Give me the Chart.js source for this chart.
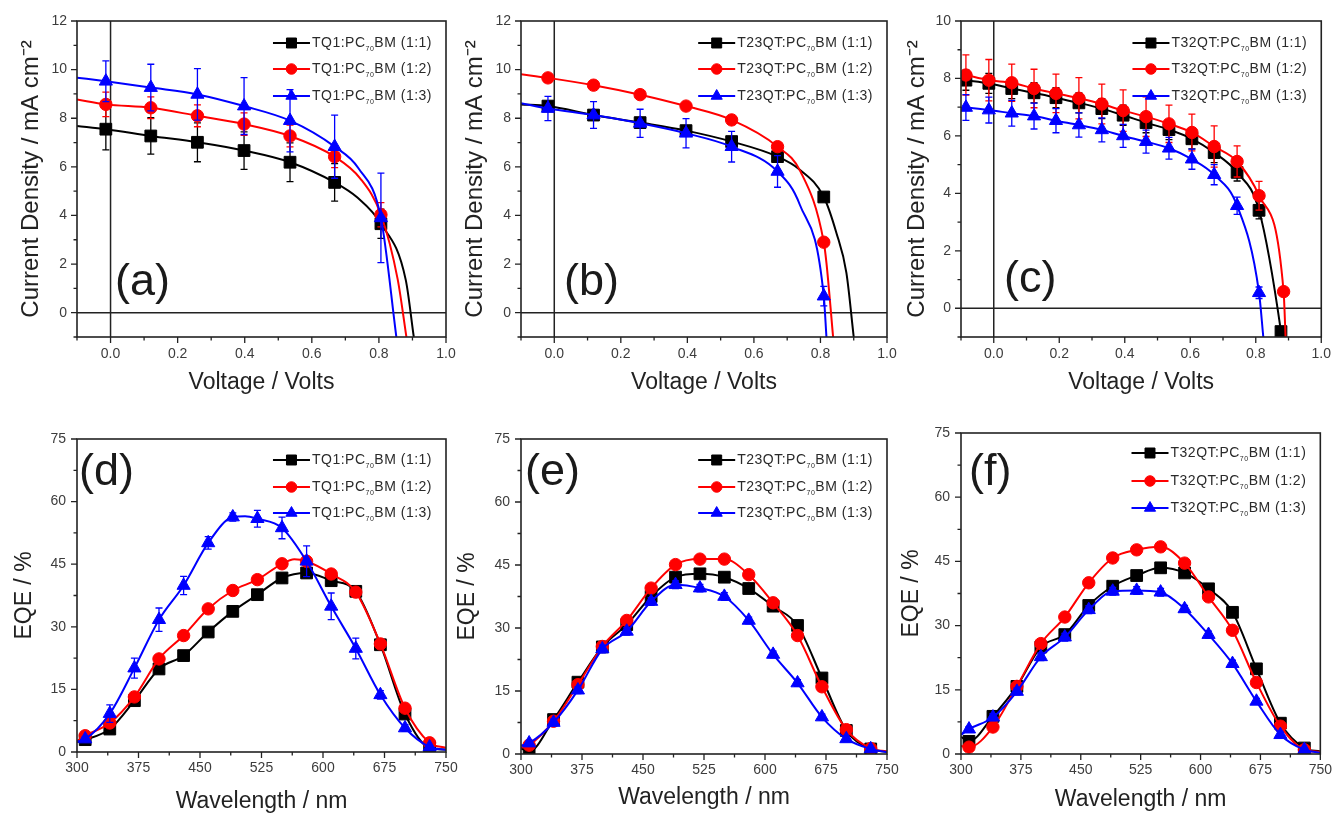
<!DOCTYPE html>
<html><head><meta charset="utf-8">
<script src="https://cdn.jsdelivr.net/npm/chart.js@4.4.1/dist/chart.umd.min.js"></script>
<style>
html,body{margin:0;padding:0;background:#fff;}
body{width:1340px;height:814px;overflow:hidden;position:relative;}
canvas{position:absolute;}
</style></head><body>
<canvas id="ca"></canvas><canvas id="cb"></canvas><canvas id="cc"></canvas>
<canvas id="cd"></canvas><canvas id="ce"></canvas><canvas id="cf"></canvas>
<script>
// ================= DATA =================
// Legend labels
const labelsTQ1   = ['TQ1:PC70BM (1:1)', 'TQ1:PC70BM (1:2)', 'TQ1:PC70BM (1:3)'];
const labelsT23QT = ['T23QT:PC70BM (1:1)', 'T23QT:PC70BM (1:2)', 'T23QT:PC70BM (1:3)'];
const labelsT32QT = ['T32QT:PC70BM (1:1)', 'T32QT:PC70BM (1:2)', 'T32QT:PC70BM (1:3)'];

// (a) J-V, TQ1
const aV   = [-0.014, 0.12, 0.259, 0.398, 0.535, 0.668, 0.806];
const aJ11 = [7.55, 7.27, 7.01, 6.67, 6.19, 5.36, 3.66];
const aJ12 = [8.57, 8.43, 8.10, 7.76, 7.27, 6.42, 4.03];
const aJ13 = [9.52, 9.26, 8.98, 8.50, 7.90, 6.83, 3.90];
const aE11 = [0.85, 0.75, 0.80, 0.77, 0.80, 0.77, 0.60];
const aE12 = [0.50, 0.45, 0.45, 0.46, 0.45, 0.45, 0.50];
const aE13 = [0.84, 0.96, 1.06, 1.17, 1.28, 1.30, 1.84];
const aTail11 = [[-0.1, 7.68], [0.735, 4.75], [0.88, 1.35], [0.904, -1]];
const aTail12 = [[-0.1, 8.77], [0.744, 5.53], [0.856, 1.37], [0.882, -1]];
const aTail13 = [[-0.1, 9.67], [0.739, 5.94], [0.852, -1]];

// (b) J-V, T23QT
const bV   = [-0.019, 0.118, 0.258, 0.396, 0.533, 0.671, 0.81];
const bJ11 = [8.50, 8.13, 7.82, 7.49, 7.04, 6.42, 4.76];
const bJ12 = [9.66, 9.36, 8.97, 8.50, 7.93, 6.83, 2.90];
const bJ13 = [8.40, 8.13, 7.79, 7.38, 6.83, 5.81, 0.68];
const bE11 = [0, 0, 0, 0, 0, 0, 0];
const bE12 = [0, 0, 0, 0, 0, 0, 0];
const bE13 = [0.50, 0.55, 0.58, 0.60, 0.63, 0.65, 0.40];
const bTail11 = [[-0.1, 8.57], [0.738, 5.88], [0.848, 3.28], [0.878, 1.64], [0.9, -1]];
const bTail12 = [[-0.1, 9.81], [0.74, 5.81], [0.818, 2.05], [0.838, -1]];
const bTail13 = [[-0.1, 8.62], [0.738, 4.44], [0.818, -1]];

// (c) J-V, T32QT
const cV   = [-0.085, -0.015, 0.055, 0.123, 0.19, 0.26, 0.33, 0.395, 0.465, 0.535, 0.605, 0.673, 0.743, 0.81];
const cV11 = cV.concat([0.877]);
const cV12 = cV.concat([0.885]);
const cJ11 = [7.94, 7.83, 7.65, 7.50, 7.33, 7.15, 6.95, 6.72, 6.46, 6.22, 5.90, 5.42, 4.73, 3.41, -0.81];
const cJ12 = [8.12, 7.94, 7.85, 7.65, 7.48, 7.31, 7.11, 6.88, 6.67, 6.42, 6.12, 5.63, 5.11, 3.92, 0.58];
const cJ13 = [6.99, 6.90, 6.79, 6.69, 6.53, 6.38, 6.21, 6.00, 5.80, 5.57, 5.19, 4.65, 3.57, 0.54];
const cE11 = [0.35, 0.35, 0.35, 0.35, 0.35, 0.35, 0.35, 0.35, 0.35, 0.35, 0.35, 0.35, 0.3, 0.3, 0];
const cE12 = [0.70, 0.72, 0.65, 0.67, 0.67, 0.72, 0.69, 0.72, 0.69, 0.65, 0.64, 0.72, 0.54, 0.50, 0];
const cE13 = [0.45, 0.45, 0.45, 0.45, 0.42, 0.42, 0.42, 0.40, 0.40, 0.38, 0.35, 0.35, 0.30, 0.2];
const cTail11 = [[0.879, -1]];
const cTail12 = [[0.891, -1]];
const cTail13 = [[0.823, -1]];

// EQE wavelengths
const wl = [310, 340, 370, 400, 430, 460, 490, 520, 550, 580, 610, 640, 670, 700, 730];

// (d) EQE, TQ1
const dQ11 = [2.96, 5.5, 12.3, 19.9, 23.1, 28.75, 33.7, 37.7, 41.7, 42.9, 41.05, 38.5, 25.7, 9.1, 0.96];
const dQ12 = [3.9, 6.95, 13.2, 22.3, 27.9, 34.3, 38.7, 41.3, 45.1, 45.7, 42.65, 38.3, 25.9, 10.5, 2.2];
const dQ13 = [3.1, 9.2, 20.1, 31.7, 39.9, 50.1, 56.3, 55.9, 53.7, 45.7, 34.9, 24.8, 13.7, 5.75, 1.2];
const dE11 = [0.5, 0.6, 0.6, 0.6, 0.6, 0.6, 0.6, 0.6, 0.6, 0.6, 0.6, 0.6, 0.6, 0.6, 0.3];
const dE12 = [0.5, 0.6, 0.6, 0.6, 0.6, 0.6, 0.6, 0.6, 0.6, 0.6, 0.6, 0.6, 0.6, 0.6, 0.3];
const dE13 = [0.5, 2.1, 2.4, 2.8, 2.2, 1.5, 1.0, 2.0, 2.6, 3.7, 3.2, 2.5, 1.0, 0.8, 0.3];
const dTail11 = [[300, 2.4], [750, 0.6]];
const dTail12 = [[300, 2.6], [565, 46.2], [750, 1.0]];
const dTail13 = [[300, 2.5], [505, 56.5], [750, 0.5]];

// (e) EQE, T23QT
const eQ11 = [0.63, 8.2, 17.1, 25.5, 30.8, 37.5, 42.1, 42.9, 42.1, 39.4, 35.2, 30.6, 18.1, 5.6, 1.2];
const eQ12 = [2.1, 7.8, 16.5, 25.6, 31.8, 39.5, 45.1, 46.4, 46.4, 42.7, 36.0, 28.2, 16.0, 5.8, 1.3];
const eQ13 = [2.6, 7.5, 15.2, 25.0, 29.2, 36.3, 40.3, 39.5, 37.5, 31.8, 23.7, 16.9, 8.8, 3.6, 1.2];
const eE11 = [0.5, 0.6, 0.6, 0.6, 0.6, 0.6, 0.6, 0.6, 0.6, 0.6, 0.6, 0.6, 0.6, 0.6, 0.3];
const eE12 = [0.5, 0.6, 0.6, 0.6, 0.6, 0.6, 0.6, 0.6, 0.6, 0.6, 0.6, 0.6, 0.6, 0.6, 0.3];
const eE13 = [0.6, 0.8, 0.8, 0.9, 0.9, 0.9, 0.9, 0.9, 0.9, 0.8, 0.8, 0.8, 0.7, 0.6, 0.3];
const eTail11 = [[300, 1.3], [750, 0.5]];
const eTail12 = [[300, 1.5], [750, 0.6]];
const eTail13 = [[300, 2.0], [750, 0.4]];

// (f) EQE, T32QT
const fQ11 = [2.96, 8.8, 15.8, 25.0, 27.9, 34.7, 39.2, 41.7, 43.5, 42.3, 38.6, 33.1, 19.9, 7.2, 1.4];
const fQ12 = [1.6, 6.3, 15.8, 25.8, 32.0, 40.0, 45.8, 47.7, 48.4, 44.6, 36.7, 28.9, 16.7, 6.5, 1.0];
const fQ13 = [5.8, 8.6, 14.6, 22.7, 27.3, 33.7, 38.0, 38.2, 37.8, 33.9, 27.9, 21.1, 12.3, 4.5, 1.0];
const fE11 = [0.5, 0.6, 0.6, 0.6, 0.6, 0.6, 0.6, 0.6, 0.6, 0.6, 0.6, 0.6, 0.6, 0.6, 0.3];
const fE12 = [0.5, 0.6, 0.6, 0.6, 0.6, 0.6, 0.6, 0.6, 0.6, 0.6, 0.6, 0.6, 0.6, 0.6, 0.3];
const fE13 = [0.6, 0.8, 0.8, 0.9, 0.9, 0.9, 0.9, 0.9, 0.9, 0.8, 0.8, 0.8, 0.7, 0.6, 0.3];
const fTail11 = [[300, 4.0], [750, 0.6]];
const fTail12 = [[300, 1.9], [750, 0.5]];
const fTail13 = [[300, 4.5], [750, 0.3]];

// Axis titles
const jvXTitle = 'Voltage / Volts';
const jvYTitle = 'Current Density / mA cm\u207B\u00B2';
const eqeXTitle = 'Wavelength / nm';
const eqeYTitle = 'EQE / %';

// ================= RENDERING =================
const FONT = "'Liberation Sans', Arial, Helvetica, sans-serif";
const COLORS = ['#000000', '#ff0000', '#0000ff'];
const SHAPES = ['rect', 'circle', 'triangle'];
const RADII = [8.3, 6.2, 7.6];

function markers(xs, ys, es) { return xs.map((x, i) => ({ x: x, y: ys[i], e: es[i] })); }
function lineData(xs, ys, tail) {
  return xs.map((x, i) => ({ x: x, y: ys[i] }))
    .concat(tail.map(p => ({ x: p[0], y: p[1] })))
    .sort((a, b) => a.x - b.x);
}

function drawMarker(ctx, shape, r, x, y, color) {
  ctx.save();
  ctx.fillStyle = color; ctx.strokeStyle = color; ctx.lineWidth = 1;
  ctx.beginPath();
  if (shape === 'rect') { const s = r * Math.SQRT1_2; ctx.rect(x - s, y - s, 2 * s, 2 * s); }
  else if (shape === 'circle') { ctx.arc(x, y, r, 0, Math.PI * 2); }
  else {
    ctx.moveTo(x, y - r);
    ctx.lineTo(x + r * Math.sin(2 * Math.PI / 3), y + r * 0.5);
    ctx.lineTo(x - r * Math.sin(2 * Math.PI / 3), y + r * 0.5);
    ctx.closePath();
  }
  ctx.fill(); ctx.stroke();
  ctx.restore();
}

const decorPlugin = {
  id: 'decor',
  beforeDatasetsDraw(chart, args, o) {
    if (!o.zeroLines) return;
    const ctx = chart.ctx, ca = chart.chartArea;
    const x0 = chart.scales.x.getPixelForValue(0), y0 = chart.scales.y.getPixelForValue(0);
    ctx.save();
    ctx.strokeStyle = '#222'; ctx.lineWidth = 1.5;
    ctx.beginPath();
    ctx.moveTo(x0, ca.top); ctx.lineTo(x0, ca.bottom);
    ctx.moveTo(ca.left, y0); ctx.lineTo(ca.right, y0);
    ctx.stroke();
    ctx.restore();
  },
  afterDatasetDraw(chart, args) {
    const ds = chart.data.datasets[args.index];
    if (!ds.isMarker) return;
    const ctx = chart.ctx, ys = chart.scales.y;
    ctx.save();
    ctx.strokeStyle = ds.borderColor; ctx.lineWidth = 1.3;
    args.meta.data.forEach((el, i) => {
      const d = ds.data[i];
      if (!d.e) return;
      const yt = ys.getPixelForValue(d.y + d.e), yb = ys.getPixelForValue(d.y - d.e);
      ctx.beginPath();
      ctx.moveTo(el.x, yt); ctx.lineTo(el.x, yb);
      ctx.moveTo(el.x - 3.5, yt); ctx.lineTo(el.x + 3.5, yt);
      ctx.moveTo(el.x - 3.5, yb); ctx.lineTo(el.x + 3.5, yb);
      ctx.stroke();
    });
    ctx.restore();
  },
  afterDraw(chart, args, o) {
    const ctx = chart.ctx, ca = chart.chartArea;
    ctx.save();
    // frame
    ctx.strokeStyle = '#222'; ctx.lineWidth = 1.6;
    ctx.strokeRect(ca.left, ca.top, ca.right - ca.left, ca.bottom - ca.top);
    // ticks (outward)
    ctx.lineWidth = 1.3;
    ctx.beginPath();
    chart.scales.x.ticks.forEach(t => {
      const px = chart.scales.x.getPixelForValue(t.value);
      const len = t.label ? 6 : 3.5;
      ctx.moveTo(px, ca.bottom); ctx.lineTo(px, ca.bottom + len);
    });
    chart.scales.y.ticks.forEach(t => {
      const py = chart.scales.y.getPixelForValue(t.value);
      const len = t.label ? 6 : 3.5;
      ctx.moveTo(ca.left, py); ctx.lineTo(ca.left - len, py);
    });
    ctx.stroke();
    // legend
    o.labels.forEach((lab, i) => {
      const y = ca.top + o.rows[i];
      const m = lab.match(/^(.*PC)(70)(BM.*)$/);
      ctx.letterSpacing = '0.5px';
      ctx.font = '14px ' + FONT; const w1 = ctx.measureText(m[1]).width;
      ctx.font = '7px ' + FONT; const w2 = ctx.measureText(m[2]).width;
      ctx.font = '14px ' + FONT; const w3 = ctx.measureText(m[3]).width;
      const xText = ca.right - 14 - (w1 + w2 + w3);
      const lx2 = xText - 2, lx1 = lx2 - 37;
      ctx.strokeStyle = COLORS[i]; ctx.lineWidth = 2.2;
      ctx.beginPath(); ctx.moveTo(lx1, y); ctx.lineTo(lx2, y); ctx.stroke();
      drawMarker(ctx, SHAPES[i], RADII[i] * 0.85, (lx1 + lx2) / 2, y, COLORS[i]);
      ctx.fillStyle = '#2a2a2a'; ctx.textBaseline = 'middle'; ctx.textAlign = 'left';
      ctx.font = '14px ' + FONT; ctx.fillText(m[1], xText, y);
      ctx.font = '7px ' + FONT; ctx.fillText(m[2], xText + w1, y + 6);
      ctx.font = '14px ' + FONT; ctx.fillText(m[3], xText + w1 + w2, y);
    });
    ctx.letterSpacing = '0px';
    // panel label
    ctx.fillStyle = '#1a1a1a'; ctx.textBaseline = 'alphabetic'; ctx.textAlign = 'left';
    ctx.font = '45px ' + FONT;
    ctx.fillText(o.panel, ca.left + o.panelPos[0], ca.top + o.panelPos[1]);
    ctx.restore();
  }
};

const jvXLabel = v => (Math.round(v * 10) % 2 === 0 && v > -0.05) ? v.toFixed(1) : '';
const jvYLabel = v => (Math.round(v) % 2 === 0 && v > -0.5) ? String(Math.round(v)) : '';
const eqeXLabel = v => (Math.round(v - 300) % 75 === 0) ? String(Math.round(v)) : '';
const eqeYLabel = v => (Math.round(v * 2) % 30 === 0) ? String(Math.round(v)) : '';

function build(P) {
  const cv = document.getElementById(P.id);
  cv.width = P.cv[2]; cv.height = P.cv[3];
  cv.style.left = P.cv[0] + 'px'; cv.style.top = P.cv[1] + 'px';
  const [pl, pr, pt, pb] = P.plot;
  const yW = pl - P.cv[0];
  const xH = P.cv[1] + P.cv[3] - pb;
  const datasets = [];
  P.series.forEach((s, i) => {
    datasets.push({ data: s.line, borderColor: COLORS[i], borderWidth: 2, pointRadius: 0,
      fill: false, cubicInterpolationMode: 'monotone', order: 10 - 3 * i });
    datasets.push({ data: s.markers, showLine: false, pointStyle: SHAPES[i], pointRadius: RADII[i],
      backgroundColor: COLORS[i], borderColor: COLORS[i], borderWidth: 1, order: 9 - 3 * i, isMarker: true });
  });
  const isJV = P.kind === 'jv';
  new Chart(cv, {
    type: 'line',
    data: { datasets },
    options: {
      responsive: false, animation: false, devicePixelRatio: 1,
      layout: { padding: { top: pt - P.cv[1], right: P.cv[0] + P.cv[2] - pr, left: 0, bottom: 0 } },
      plugins: { legend: { display: false }, tooltip: { enabled: false },
        decor: { zeroLines: isJV, labels: P.labels, rows: P.rows, panel: P.panel, panelPos: P.panelPos } },
      scales: {
        x: {
          type: 'linear', min: P.x[0], max: P.x[1],
          afterFit(s) { s.height = xH; },
          grid: { display: false, drawTicks: false, tickLength: 0 }, border: { display: false },
          ticks: { stepSize: P.x[2], autoSkip: false, maxRotation: 0, maxTicksLimit: 100,
            padding: P.xTickPad, color: '#3c3c3c', font: { size: 14, family: FONT },
            callback: isJV ? jvXLabel : eqeXLabel },
          title: { display: true, text: isJV ? jvXTitle : eqeXTitle, color: '#222',
            font: { size: 23, family: FONT }, padding: { top: 0, bottom: P.xTitlePad } }
        },
        y: {
          type: 'linear', min: P.y[0], max: P.y[1],
          afterFit(s) { s.width = yW; },
          grid: { display: false, drawTicks: false, tickLength: 0 }, border: { display: false },
          ticks: { stepSize: P.y[2], autoSkip: false, maxTicksLimit: 100,
            padding: P.yTickPad, color: '#3c3c3c', font: { size: 14, family: FONT },
            callback: isJV ? jvYLabel : eqeYLabel },
          title: { display: true, text: isJV ? jvYTitle : eqeYTitle, color: '#222',
            font: { size: isJV ? 24 : 23, family: FONT }, padding: { top: P.yTitlePad, bottom: 0 } }
        }
      }
    },
    plugins: [decorPlugin]
  });
}

const panels = [
  { id: 'ca', kind: 'jv', cv: [0, 0, 475, 410], plot: [77, 446, 21, 337], x: [-0.1, 1.0, 0.1], y: [-1, 12, 1],
    yTitlePad: 16.6, xTitlePad: 13.2, yTickPad: 10, xTickPad: 9, labels: labelsTQ1, rows: [22, 48, 75],
    panel: '(a)', panelPos: [38, 274],
    series: [
      { markers: markers(aV, aJ11, aE11), line: lineData(aV, aJ11, aTail11) },
      { markers: markers(aV, aJ12, aE12), line: lineData(aV, aJ12, aTail12) },
      { markers: markers(aV, aJ13, aE13), line: lineData(aV, aJ13, aTail13) } ] },
  { id: 'cb', kind: 'jv', cv: [450, 0, 465, 410], plot: [521, 887, 21, 337], x: [-0.1, 1.0, 0.1], y: [-1, 12, 1],
    yTitlePad: 10.6, xTitlePad: 13.2, yTickPad: 10, xTickPad: 9, labels: labelsT23QT, rows: [22, 48, 75],
    panel: '(b)', panelPos: [43, 274],
    series: [
      { markers: markers(bV, bJ11, bE11), line: lineData(bV, bJ11, bTail11) },
      { markers: markers(bV, bJ12, bE12), line: lineData(bV, bJ12, bTail12) },
      { markers: markers(bV, bJ13, bE13), line: lineData(bV, bJ13, bTail13) } ] },
  { id: 'cc', kind: 'jv', cv: [890, 0, 450, 410], plot: [961, 1327, 21, 337], x: [-0.1, 1.0, 0.1], y: [-1, 10, 1],
    yTitlePad: 12.6, xTitlePad: 13.2, yTickPad: 10, xTickPad: 9, labels: labelsT32QT, rows: [22, 48, 75],
    panel: '(c)', panelPos: [43, 271],
    series: [
      { markers: markers(cV11, cJ11, cE11), line: lineData(cV11, cJ11, cTail11) },
      { markers: markers(cV12, cJ12, cE12), line: lineData(cV12, cJ12, cTail12) },
      { markers: markers(cV, cJ13, cE13), line: lineData(cV, cJ13, cTail13) } ] },
  { id: 'cd', kind: 'eqe', cv: [0, 410, 475, 420], plot: [77, 446, 439, 752], x: [300, 750, 37.5], y: [0, 75, 7.5],
    yTitlePad: 11.2, xTitlePad: 14.2, yTickPad: 11, xTickPad: 8, labels: labelsTQ1, rows: [21, 48, 74],
    panel: '(d)', panelPos: [2, 46],
    series: [
      { markers: markers(wl, dQ11, dE11), line: lineData(wl, dQ11, dTail11) },
      { markers: markers(wl, dQ12, dE12), line: lineData(wl, dQ12, dTail12) },
      { markers: markers(wl, dQ13, dE13), line: lineData(wl, dQ13, dTail13) } ] },
  { id: 'ce', kind: 'eqe', cv: [450, 410, 465, 420], plot: [521, 887, 439, 754], x: [300, 750, 37.5], y: [0, 75, 7.5],
    yTitlePad: 4.2, xTitlePad: 18.2, yTickPad: 11, xTickPad: 8, labels: labelsT23QT, rows: [21, 48, 74],
    panel: '(e)', panelPos: [4, 46],
    series: [
      { markers: markers(wl, eQ11, eE11), line: lineData(wl, eQ11, eTail11) },
      { markers: markers(wl, eQ12, eE12), line: lineData(wl, eQ12, eTail12) },
      { markers: markers(wl, eQ13, eE13), line: lineData(wl, eQ13, eTail13) } ] },
  { id: 'cf', kind: 'eqe', cv: [890, 410, 450, 420], plot: [961, 1327, 433, 754], x: [300, 750, 37.5], y: [0, 75, 7.5],
    yTitlePad: 8.2, xTitlePad: 16.2, yTickPad: 11, xTickPad: 8, labels: labelsT32QT, rows: [20, 48, 75],
    panel: '(f)', panelPos: [8, 52],
    series: [
      { markers: markers(wl, fQ11, fE11), line: lineData(wl, fQ11, fTail11) },
      { markers: markers(wl, fQ12, fE12), line: lineData(wl, fQ12, fTail12) },
      { markers: markers(wl, fQ13, fE13), line: lineData(wl, fQ13, fTail13) } ] }
];

panels.forEach(build);
</script>
</body></html>
